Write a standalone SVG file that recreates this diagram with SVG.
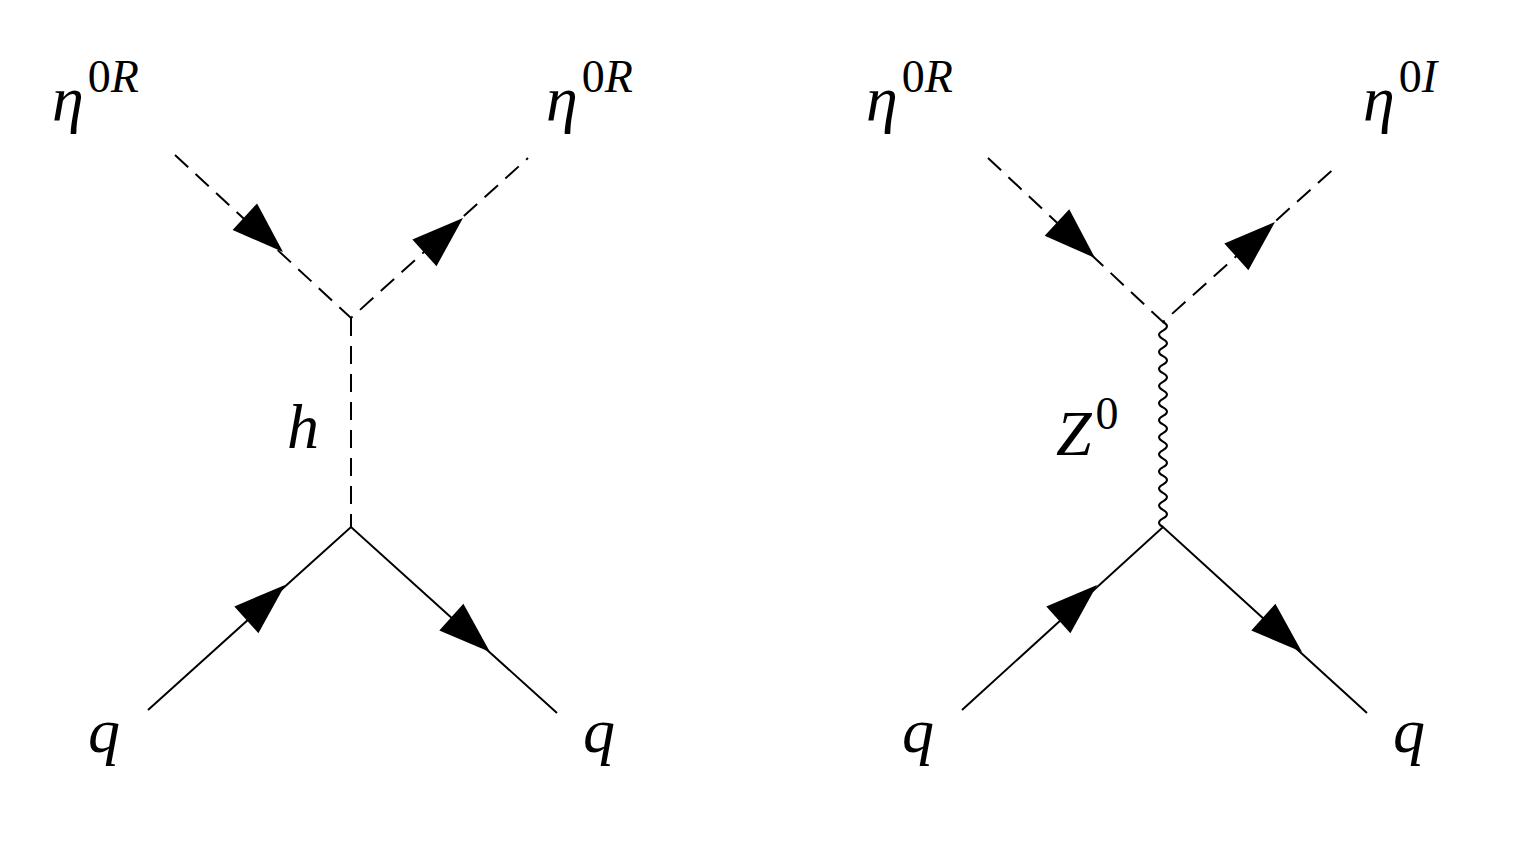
<svg xmlns="http://www.w3.org/2000/svg" width="1521" height="843" viewBox="0 0 1521 843">
<style>
.l{stroke:#000;stroke-width:2;fill:none}
.d{stroke-dasharray:18,10}
text{font-family:"Liberation Serif","DejaVu Serif",serif;fill:#000}
.m{font-style:italic;font-size:64px}
.s{font-size:46px}
</style>
<defs><path id="arr" d="M0,0 L-52,-18 L-52,18 Z" fill="#000"/></defs>
<rect width="1521" height="843" fill="#fff"/>
<g id="connectors">
<path class="l d" d="M175,155 L351,318 L528,158 M351,318 L351,527"/>
<path class="l" d="M148,710 L351,527 L557,713"/>
<path class="l d" d="M988,158 L1163,322 L1338,165"/>
<path class="l" d="M962,710 L1163,527 L1367,713"/>
<path class="l" stroke-width="1.6" d="M1163,322 q8,4.27 0,8.54 q-8,4.27 0,8.54 q8,4.27 0,8.54 q-8,4.27 0,8.54 q8,4.27 0,8.54 q-8,4.27 0,8.54 q8,4.27 0,8.54 q-8,4.27 0,8.54 q8,4.27 0,8.54 q-8,4.27 0,8.54 q8,4.27 0,8.54 q-8,4.27 0,8.54 q8,4.27 0,8.54 q-8,4.27 0,8.54 q8,4.27 0,8.54 q-8,4.27 0,8.54 q8,4.27 0,8.54 q-8,4.27 0,8.54 q8,4.27 0,8.54 q-8,4.27 0,8.54 q8,4.27 0,8.54 q-8,4.27 0,8.54 q8,4.27 0,8.54 q-8,4.27 0,8.54"/>
<use href="#arr" transform="translate(283,252) rotate(42.8)"/>
<use href="#arr" transform="translate(463,218) rotate(-42.1)"/>
<use href="#arr" transform="translate(285,585) rotate(-42)"/>
<use href="#arr" transform="translate(490,652) rotate(42)"/>
<use href="#arr" transform="translate(1095,258) rotate(43)"/>
<use href="#arr" transform="translate(1275,222) rotate(-42)"/>
<use href="#arr" transform="translate(1097,585) rotate(-42)"/>
<use href="#arr" transform="translate(1302,652) rotate(42)"/>
</g>
<g id="labels">
<text x="52" y="120" class="m">η<tspan class="s" dx="4" dy="-28" font-style="normal">0</tspan><tspan class="s" font-style="italic">R</tspan></text>
<text x="546" y="120" class="m">η<tspan class="s" dx="4" dy="-28" font-style="normal">0</tspan><tspan class="s" font-style="italic">R</tspan></text>
<text x="866" y="120" class="m">η<tspan class="s" dx="4" dy="-28" font-style="normal">0</tspan><tspan class="s" font-style="italic">R</tspan></text>
<text x="1363" y="120" class="m">η<tspan class="s" dx="4" dy="-28" font-style="normal">0</tspan><tspan class="s" font-style="italic">I</tspan></text>
<text x="287" y="448" class="m">h</text>
<text x="1056" y="455" class="m">Z<tspan class="s" dx="4" dy="-26" font-style="normal">0</tspan></text>
<text x="88" y="752" class="m">q</text>
<text x="583" y="752" class="m">q</text>
<text x="902" y="752" class="m">q</text>
<text x="1393" y="752" class="m">q</text>
</g>
</svg>
